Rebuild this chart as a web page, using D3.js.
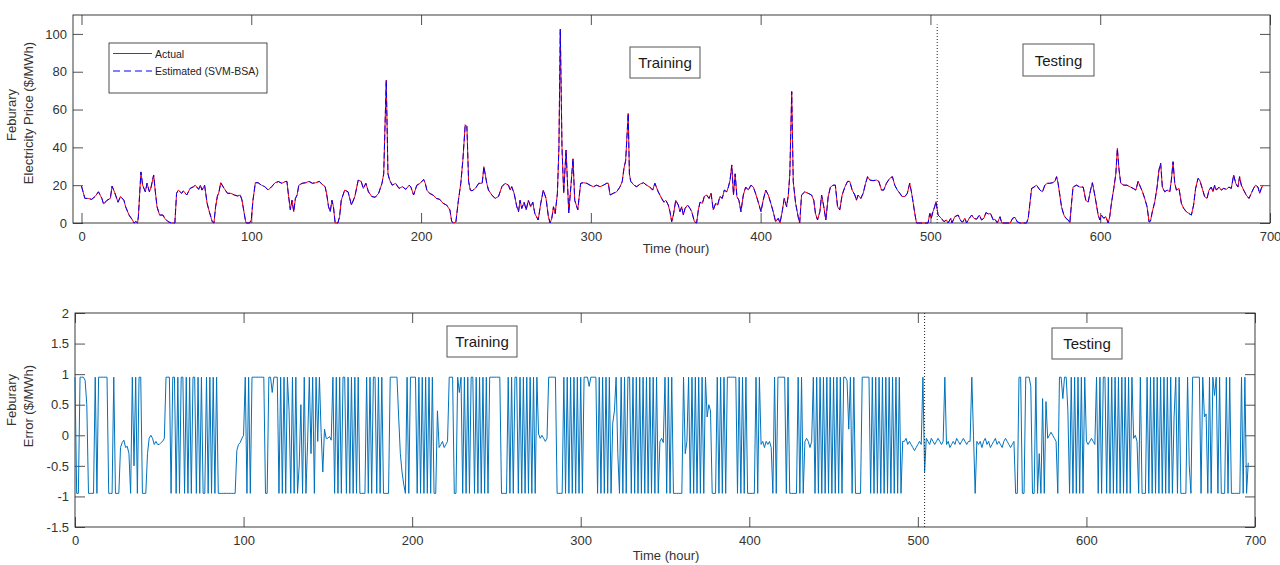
<!DOCTYPE html>
<html>
<head>
<meta charset="utf-8">
<script src="https://cdn.jsdelivr.net/npm/d3@7"></script>
<style>
  body { margin: 0; background: #fff; }
  svg { display: block; font-family: "Liberation Sans", Arial, sans-serif; }
</style>
</head>
<body>
<svg id="chart" width="1280" height="565"></svg>
<script>
// Price: hour of each point and its value ($/MWh)
const priceHours = [
  0, 2, 4, 6, 8, 10, 12, 13, 15, 17,
  18, 19.6, 21.5, 23, 25, 26, 28, 30, 31, 32,
  33, 33.5, 35, 36, 37.6, 38.6, 40, 41, 42.5, 43.5,
  44.5, 46, 48, 49, 51, 53, 55, 56, 57, 59,
  60, 62, 64, 66, 67, 69, 70, 71, 72.5, 74,
  75, 77, 78, 79, 80, 81, 82, 84, 86, 88,
  90, 92, 93.5, 94.5, 95.5, 96.5, 97, 99, 100, 101,
  102.4, 104, 106, 108, 110, 112, 114, 116, 118, 120,
  121, 122, 123, 124, 125, 126, 127, 128, 130, 132,
  134, 136, 138, 140, 141.6, 143.5, 144.5, 145.5, 146.5, 147.5,
  148.4, 149.4, 151, 152, 153, 155, 157, 159, 161, 163,
  164.7, 166, 167.5, 169, 171, 173, 175, 177, 178, 179.5,
  180.5, 181.5, 183, 185, 187, 189, 191, 193, 194, 195.6,
  197.5, 199.5, 201.5, 202.5, 203.4, 205, 207, 209, 211, 213,
  215, 217, 218, 219, 220.5, 222, 223.4, 224.6, 226, 227,
  228, 229, 230, 232, 234, 236, 237, 238.7, 239.7, 241.7,
  243.6, 245.6, 247.6, 249.5, 251.5, 252.5, 253.4, 254.8, 256.4, 257.4,
  258.3, 259.3, 260.7, 261.9, 263.2, 264.6, 265.8, 267, 269, 270.5,
  272, 273.6, 275, 276, 277, 278, 279, 280.3, 281.2, 282,
  283, 284, 285.4, 287, 289.5, 290.5, 292.3, 294, 295.6, 297.6,
  299.5, 301.5, 303.4, 305.4, 307.4, 309.3, 310.3, 311.3, 313.2, 315.2,
  317.2, 318.5, 319.5, 320.5, 322, 322.7, 323.5, 325.4, 327, 329,
  331, 332.8, 334.8, 336.4, 337.7, 339.7, 341.7, 343, 344.2, 345.6,
  346.6, 347.6, 348.6, 350, 351.5, 352.5, 353.5, 354.5, 355.5, 357,
  358.4, 359.4, 361, 362.3, 363.3, 364.3, 365.7, 366.8, 368.2, 369.6,
  370.8, 372.1, 373.5, 374.7, 376, 377.4, 378.6, 380, 381, 382,
  383, 384, 385, 386, 387.2, 388.4, 389.8, 391.2, 392.7, 394.3,
  395.7, 397, 398.6, 400.2, 401.5, 403, 404.5, 406, 407.4, 408.8,
  410.4, 411.4, 412.7, 413.9, 415.3, 416.3, 417.2, 418.3, 419.2, 420.6,
  422.1, 423, 424.1, 426, 428, 430, 431.3, 432.3, 433.5, 434.9,
  435.9, 437.2, 438.4, 439.8, 441.1, 442.7, 444, 445.3, 446.6, 448,
  449.6, 451.2, 452.5, 453.9, 455.5, 456.4, 457.4, 459, 460.4, 461.8,
  463, 464.3, 466.2, 468.2, 469.6, 471.2, 472.5, 474.1, 476, 477.6,
  479, 480.5, 482, 483.3, 485, 486.4, 487.8, 488.8, 489.8, 490.8,
  491.8, 498.6, 499.6, 500.5, 501.5, 502.5, 503.3, 504.5, 506.4, 508,
  509.4, 510.4, 512, 512.7, 514.3, 516.3, 517.8, 519, 520.3, 521.3,
  522.9, 524.3, 525.6, 527.2, 528.8, 530.1, 531.5, 532.7, 534, 535.4,
  537, 538, 539.4, 541, 542, 547, 548.4, 549.8, 551.1, 552.7,
  556.6, 557.6, 558.6, 559.6, 561, 562.5, 564.5, 566, 567.4, 568.8,
  570.3, 571.9, 573.3, 574.3, 575.2, 576.2, 577.2, 578.6, 579.8, 581.1,
  582.1, 583.1, 584, 586, 588, 590, 591.5, 592.9, 594.3, 595.4,
  596.8, 597.8, 598.8, 599.8, 600.7, 602.1, 603.3, 604.7, 605.6, 606.6,
  608, 609.2, 610.1, 611.1, 612.1, 613.9, 615.8, 617.8, 619.4, 621,
  622.3, 623.7, 624.9, 626.2, 627.6, 628.8, 629.6, 630.7, 632.1, 633.5,
  634.6, 635.6, 636.6, 638, 639.4, 641, 641.9, 642.9, 643.9, 644.9,
  646.4, 647.8, 649.2, 650.7, 652.3, 653.7, 655, 656.2, 657.6, 658.6,
  660.1, 661.5, 662.9, 664.1, 665.4, 666.4, 667.4, 668.4, 670, 671.3,
  672.7, 674.3, 675.8, 677.2, 678.6, 679.8, 681.1, 682.1, 683.1, 684.5,
  686, 687.6, 689, 690.3, 691.5, 692.9, 693.9, 694.9, 695.8
];
const actualPrice = [
  19.5, 13, 13, 12.5, 14, 16.5, 13, 10, 12, 13,
  19.5, 16, 11, 14, 12, 8.6, 4.2, 1.6, 0, 0.8,
  0, 3.3, 27, 20, 16.5, 21, 16.5, 19, 25.4, 16.5,
  8.6, 4.2, 4.2, 2.5, 0.7, 0, 0, 15.7, 17.4, 15.7,
  17, 14.8, 18.3, 19.2, 20, 17.8, 20, 17.4, 20, 10.4,
  6.9, 0.7, 0, 8.6, 14, 16.5, 21.3, 18.3, 15.7, 15.7,
  14.8, 14.3, 14.8, 12.2, 6.9, 1.6, 0, 0, 1.6, 12,
  21.3, 21.3, 20, 19.2, 17.4, 19.2, 21.3, 21.9, 21, 21.9,
  22, 14, 7, 12, 6, 13, 14.8, 20, 21, 21.3,
  22, 21, 21.3, 22, 20.6, 19.2, 14.8, 8.6, 6, 12,
  8.6, 0, 0, 3.3, 12, 17.4, 16.5, 9.5, 14, 22.7,
  22, 18.3, 21, 16.5, 14, 13.6, 15.7, 21, 26, 75.5,
  26, 22.7, 20, 21, 18.3, 19.2, 17.8, 20, 19, 14.8,
  20, 21, 23, 21, 17.4, 15.7, 14.8, 13, 12.5, 10.4,
  9.5, 6.9, 1, 0, 0.5, 12, 21, 33, 52, 51,
  22, 17.4, 17, 18.3, 21, 21, 29.8, 21, 17.4, 14.8,
  13, 14, 19.2, 21, 20, 17.4, 19.2, 15.7, 8.6, 6,
  12, 7.7, 11, 6.9, 12, 8.6, 11, 5, 1.6, 10.4,
  17.4, 13, 3.3, 0, 2.5, 8.6, 5, 15.7, 40, 102.5,
  40, 15.8, 38.6, 5.3, 34, 12, 7, 21, 21.3, 21,
  20, 19.2, 20, 19.2, 20, 21, 21, 14.8, 15.7, 16.5,
  19.2, 22, 28.9, 33, 58, 26, 22, 20, 19.2, 20.6,
  21.3, 20, 19, 17.4, 21, 16.5, 13, 11, 12, 9.5,
  6, 0.7, 4.2, 12, 9.5, 6, 8.6, 4.2, 7.7, 9.5,
  7.7, 6, 0.7, 0, 6.9, 11, 10.4, 14, 14.8, 13,
  15.7, 6.9, 10.4, 9.5, 14, 13, 17.4, 16.5, 19, 22.7,
  30.7, 14.8, 26, 14, 12, 6, 14.8, 19, 17.4, 20,
  19, 15.7, 11, 6, 12, 17.4, 14.8, 10.4, 6, 0.7,
  2.5, 0, 6, 13, 8.6, 14.8, 26, 69.5, 22, 10.4,
  3.3, 0, 14.8, 16.5, 15.7, 14.8, 12, 5, 1.6, 6,
  14.8, 8.6, 1.6, 14, 19, 20, 20, 8.6, 6.9, 14.8,
  19, 22, 22, 17.4, 14.8, 12, 14.8, 13, 15.7, 21,
  24.5, 22.7, 22.4, 22.7, 22, 17.4, 17.4, 21, 23.6, 24.5,
  20, 17.4, 15.7, 14, 14, 15.7, 21, 16.5, 11, 5,
  0, 0, 5, 2.5, 6, 8.6, 11.3, 4.2, 2.5, 0.7,
  1.6, 0, 2.5, 0, 3.3, 4.2, 1.2, 0.5, 2.5, 0,
  2.5, 4.2, 2.5, 2, 4.2, 1.6, 2.5, 5.5, 4.8, 5,
  1.6, 2, 0, 3.3, 0, 0, 2.5, 3, 0.7, 0,
  0, 2.5, 10.4, 18.3, 19, 20, 17.4, 16.5, 20, 21,
  21, 21.3, 22, 24.5, 21, 14.8, 8.6, 4.2, 2.5, 1.6,
  0, 10.4, 19, 20, 19, 19, 12, 11, 17.4, 21.3,
  14.8, 9.5, 4.2, 1.6, 4.2, 2.5, 3.3, 0, 3.3, 10.4,
  18.3, 26, 39.5, 28, 21, 20, 20, 19, 18.3, 17.4,
  22, 19, 16.5, 13, 8.6, 0.5, 1, 6, 11, 19,
  28, 31.6, 19, 16.5, 17.4, 16.5, 22.7, 32.4, 21, 17.4,
  18.3, 10.4, 7.7, 6, 5, 4.2, 9.5, 18.3, 23.6, 22.7,
  18.3, 14, 13, 17.4, 19, 16.5, 20, 17.4, 19, 17.4,
  18.3, 17.8, 19, 18.3, 25.4, 21, 19, 24.5, 20, 17.4,
  14.8, 13, 15.7, 18.3, 20, 19, 15.7, 18.3, 20
];
// the SVM-BSA estimate lies on the actual curve at this scale (error stays within ±1)
const estimatedPrice = actualPrice;

// Hourly estimation error ($/MWh), index = hour
const H = 0.95, L = -0.95;
const errorValues = [
  H, L, L, H, H, H, .9, .5, L, L,                       // 0
  L, L, H, L, H, H, H, H, H, H,
  L, L, L, H, L, L, L, -.2, -.12, -.08,
  -.2, -.18, -.3, L, H, -.5, H, L, H, H,
  L, L, L, -.3, -.05, 0, -.05, -.15, -.1, -.15,
  -.15, -.12, -.1, -.05, H, H, H, L, H, H,              // 50
  L, H, L, H, H, L, H, L, H, L,
  H, H, L, H, L, H, L, L, H, L,
  H, L, H, L, H, L, L, L, L, L,
  L, L, L, L, L, L, -.25, -.15, -.12, -.05,
  0, H, L, H, L, H, H, H, H, H,                         // 100
  H, H, H, L, L, H, H, .7, H, H,
  H, L, H, L, H, L, H, .4, L, H,
  L, H, L, -.5, .5, L, H, L, -.1, H,
  -.3, H, L, H, -.1, H, .05, -.6, .1, -.05,
  -.05, -.02, -.08, H, L, H, L, H, L, H,                // 150
  H, L, H, L, H, L, H, L, H, L,
  L, L, L, H, L, H, L, H, H, L,
  H, L, H, L, L, L, L, H, H, H,
  H, H, .3, -.3, -.6, -.8, L, H, L, H,
  H, H, H, L, H, L, H, L, H, L,                         // 200
  H, L, H, L, L, .4, -.2, -.15, -.1, -.2,
  -.15, -.1, H, H, H, L, L, H, .7, H,
  L, H, L, H, L, H, H, L, H, L,
  H, L, H, L, H, L, H, H, H, H,
  H, H, H, L, L, L, L, H, L, H,                         // 250
  L, H, H, L, H, L, H, L, H, L,
  H, L, H, L, H, .02, -.05, 0, -.05, -.1,
  -.05, H, H, H, H, H, L, L, L, L,
  H, L, H, L, H, L, H, L, H, L,
  H, L, H, H, H, .8, H, H, H, H,                        // 300
  L, H, L, H, L, H, L, H, L, .2,
  .4, H, -.3, L, H, L, H, L, H, H,
  L, H, L, H, L, H, L, H, L, H,
  L, H, L, H, L, H, L, -.1, -.05, -.12,
  H, L, H, L, H, L, L, L, L, L,                         // 350
  L, H, -.3, -.1, H, L, H, L, H, L,
  H, L, H, L, H, .3, .5, .4, L, L,
  L, H, L, H, L, H, L, H, H, H,
  H, H, H, L, H, L, H, L, H, L,
  L, L, L, L, H, L, H, -.15, -.1, -.2,                  // 400
  -.1, -.15, -.1, -.2, L, H, L, H, H, H,
  H, H, L, H, L, L, L, L, L, H,
  L, H, L, -.1, -.05, -.1, -.2, -.1, H, L,
  H, L, H, L, H, L, H, L, H, L,
  H, L, H, L, H, L, H, H, .9, .1,                       // 450
  H, L, H, L, L, L, L, H, H, H,
  H, H, L, H, L, H, L, H, L, H,
  L, H, L, H, L, H, L, H, L, H,
  L, -.1, -.1, -.05, -.15, -.1, -.15, -.2, -.25, -.2,
  -.15, -.1, -.15, H, -.6, -.05, -.1, -.15, -.05, -.1,  // 500
  -.15, -.1, -.05, -.1, -.15, -.1, H, -.15, -.1, -.2,
  -.15, -.1, -.15, -.05, -.1, -.15, -.1, -.05, -.1, -.15,
  -.1, -.1, H, 0, L, -.1, -.15, -.1, -.2, -.1,
  -.05, -.15, -.1, -.2, -.15, -.1, -.05, -.15, -.1, -.15,
  -.2, -.1, -.05, -.1, -.15, -.2, -.15, -.1, L, L,      // 550
  H, H, L, L, H, H, H, .8, L, L,
  H, L, -.3, L, .6, L, .55, -.05, 0, .05,
  0, -.05, -.1, L, H, H, .6, H, H, .4,
  L, H, L, H, L, H, L, H, L, H,
  -.1, -.15, -.1, -.05, -.1, -.15, H, L, H, L,          // 600
  H, H, L, H, L, H, L, H, L, H,
  L, H, L, H, L, H, L, H, -.05, 0,
  -.1, L, H, L, L, L, H, L, H, L,
  H, L, H, L, H, L, H, L, H, L,
  H, L, .3, H, L, H, L, L, L, L,                        // 650
  H, -.5, L, H, H, H, H, H, L, H,
  .3, .35, L, H, L, H, .65, H, L, H,
  L, L, L, H, L, H, L, L, L, L,
  L, L, H, L, H, L, -.45
];

const hourTicks = [0, 100, 200, 300, 400, 500, 600, 700];
const priceTicks = [0, 20, 40, 60, 80, 100];
const errorTicks = [-1.5, -1, -0.5, 0, 0.5, 1, 1.5, 2];
const splitHour = 504;

const svg = d3.select('#chart');
const axisColor = '#262626';
const tickLen = 10;

// Scales for both panels
const xTop = d3.scaleLinear().domain([-5, 700]).range([73, 1270]);
const yTop = d3.scaleLinear().domain([0, 110]).range([223, 15]);
const xBot = d3.scaleLinear().domain([0, 700]).range([75, 1255]);
const yBot = d3.scaleLinear().domain([-1.5, 2]).range([527, 313]);

function frame(x, y, yTicks) {
  const [x0, x1] = x.range();
  const [y0, y1] = y.range();
  const g = svg.append('g').attr('color', axisColor);

  const styleAxis = sel => {
    sel.select('.domain').remove();
    sel.attr('font-size', 13).attr('font-family', null);
    sel.selectAll('line').attr('stroke-width', 0.8);
    sel.selectAll('text').attr('fill', '#333');
  };

  g.append('g').attr('transform', `translate(0,${y0})`)
    .call(d3.axisBottom(x).tickValues(hourTicks).tickSize(-tickLen).tickPadding(9).tickFormat(d => String(d)))
    .call(styleAxis);
  g.append('g').attr('transform', `translate(0,${y1})`)
    .call(d3.axisTop(x).tickValues(hourTicks).tickSize(-tickLen).tickFormat(''))
    .call(styleAxis);
  g.append('g').attr('transform', `translate(${x0},0)`)
    .call(d3.axisLeft(y).tickValues(yTicks).tickSize(-tickLen).tickPadding(6).tickFormat(d => String(d)))
    .call(styleAxis);
  g.append('g').attr('transform', `translate(${x1},0)`)
    .call(d3.axisRight(y).tickValues(yTicks).tickSize(-tickLen).tickFormat(''))
    .call(styleAxis);

  g.append('rect')
    .attr('x', x0).attr('y', y1)
    .attr('width', x1 - x0).attr('height', y0 - y1)
    .attr('fill', 'none').attr('stroke', axisColor).attr('stroke-width', 0.9);
}

function labelBox(x, y, w, h, text) {
  svg.append('rect').attr('x', x).attr('y', y).attr('width', w).attr('height', h)
    .attr('fill', '#fff').attr('stroke', '#555').attr('stroke-width', 1);
  svg.append('text').attr('x', x + w / 2).attr('y', y + h / 2 + 5.5)
    .attr('text-anchor', 'middle').attr('font-size', 15).attr('fill', '#1a1a1a').text(text);
}

function yLabel(x, y, text) {
  svg.append('text').attr('transform', `translate(${x},${y}) rotate(-90)`)
    .attr('text-anchor', 'middle').attr('font-size', 13).attr('fill', '#333').text(text);
}

// ---- Top panel: price ----
frame(xTop, yTop, priceTicks);

const priceLine = d3.line().x((d, i) => xTop(priceHours[i])).y(d => yTop(d));
svg.append('path').datum(actualPrice)
  .attr('d', priceLine).attr('fill', 'none')
  .attr('stroke', '#ff0000').attr('stroke-width', 1);
svg.append('path').datum(estimatedPrice)
  .attr('d', priceLine).attr('fill', 'none')
  .attr('stroke', '#0000ff').attr('stroke-width', 1).attr('stroke-dasharray', '6,3');

svg.append('line')
  .attr('x1', xTop(splitHour)).attr('x2', xTop(splitHour))
  .attr('y1', yTop(0)).attr('y2', yTop(105))
  .attr('stroke', '#222').attr('stroke-width', 1).attr('stroke-dasharray', '1,2');

labelBox(630, 47, 70, 31, 'Training');
labelBox(1023, 44, 71, 32, 'Testing');

// legend
const lg = svg.append('g');
lg.append('rect').attr('x', 109).attr('y', 43).attr('width', 158).attr('height', 50)
  .attr('fill', '#fff').attr('stroke', '#222').attr('stroke-width', 0.8);
lg.append('line').attr('x1', 113).attr('x2', 152).attr('y1', 53.5).attr('y2', 53.5)
  .attr('stroke', '#ff0000').attr('stroke-width', 1);
lg.append('line').attr('x1', 113).attr('x2', 152).attr('y1', 71).attr('y2', 71)
  .attr('stroke', '#0000ff').attr('stroke-width', 1).attr('stroke-dasharray', '7,4');
lg.append('text').attr('x', 155).attr('y', 57.5).attr('font-size', 10.5).attr('fill', '#222').text('Actual');
lg.append('text').attr('x', 155).attr('y', 75).attr('font-size', 10.5).attr('fill', '#222').text('Estimated (SVM-BSA)');

yLabel(16, 115, 'Feburary');
yLabel(33, 113, 'Electricity Price ($/MWh)');
svg.append('text').attr('x', 676).attr('y', 253).attr('text-anchor', 'middle')
  .attr('font-size', 13).attr('fill', '#333').text('Time (hour)');

// ---- Bottom panel: error ----
frame(xBot, yBot, errorTicks);

svg.append('path').datum(errorValues)
  .attr('d', d3.line().x((d, i) => xBot(i)).y(d => yBot(d)))
  .attr('fill', 'none').attr('stroke', '#0072bd').attr('stroke-width', 1);

svg.append('line')
  .attr('x1', xBot(splitHour)).attr('x2', xBot(splitHour))
  .attr('y1', yBot(-1.5)).attr('y2', yBot(2))
  .attr('stroke', '#222').attr('stroke-width', 1).attr('stroke-dasharray', '1,2');

labelBox(447, 326, 70, 31, 'Training');
labelBox(1052, 328, 70, 31, 'Testing');

yLabel(16, 400, 'Feburary');
yLabel(33, 406, 'Error ($/MWh)');
svg.append('text').attr('x', 666).attr('y', 560).attr('text-anchor', 'middle')
  .attr('font-size', 13).attr('fill', '#333').text('Time (hour)');
</script>
</body>
</html>
